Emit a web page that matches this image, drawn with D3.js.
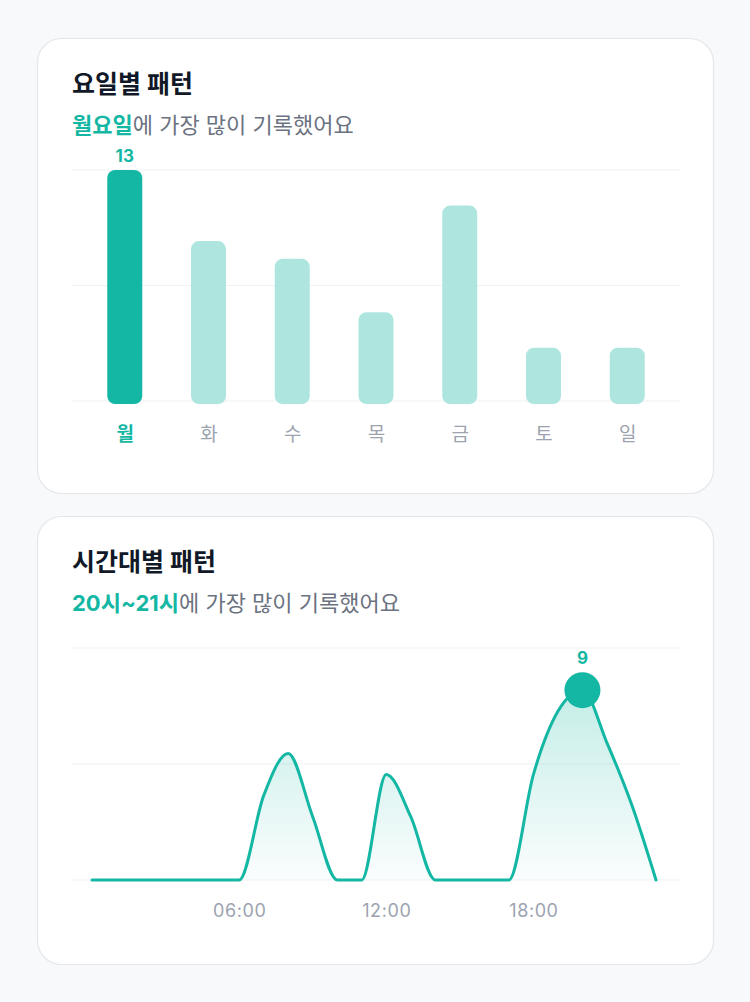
<!DOCTYPE html>
<html>
<head>
<meta charset="utf-8">
<script src="https://cdn.jsdelivr.net/npm/d3@7"></script>
<style>
  html, body { margin: 0; padding: 0; background: #f8f9fa; }
  svg { display: block; }
  text { font-family: Inter, "Noto Sans CJK KR", "Noto Sans", sans-serif; }
</style>
</head>
<body>
<svg id="chart" width="750" height="1002"></svg>
<script>
// ---- Data ----
const weekdays = ["월", "화", "수", "목", "금", "토", "일"];
const weekdayCounts = [13, 9, 8, 5, 11, 3, 3];

const hours = [0,1,2,3,4,5,6,7,8,9,10,11,12,13,14,15,16,17,18,19,20,21,22,23];
const hourCounts = [0,0,0,0,0,0,0,4,6,3,0,0,5,3,0,0,0,0,5,8,9,6.5,3.6,0];
const hourTickValues = [6, 12, 18];
const hourTickLabels = ["06:00", "12:00", "18:00"];

const card1Title = "요일별 패턴";
const card1Highlight = "월요일";
const card1Rest = "에 가장 많이 기록했어요";
const card2Title = "시간대별 패턴";
const card2Highlight = "20시~21시";
const card2Rest = "에 가장 많이 기록했어요";

// ---- Styles ----
const TEAL = "#14b7a3";
const TEAL_LIGHT = "#aee6df";
const GRID = "#f0f2f4";
const TITLE = "#111827";
const SUB = "#6b7280";
const AXIS = "#9ca3af";

const svg = d3.select("#chart");

// cards
const cards = [{x: 37, y: 38, w: 676, h: 455}, {x: 37, y: 516, w: 676, h: 448}];
svg.selectAll("rect.card").data(cards).join("rect")
  .attr("class", "card")
  .attr("x", d => d.x + 0.5).attr("y", d => d.y + 0.5)
  .attr("width", d => d.w).attr("height", d => d.h)
  .attr("rx", 24).attr("fill", "#fff")
  .attr("stroke", "#e4e6ea").attr("stroke-width", 1.2);

function header(top, title, hl, rest) {
  svg.append("text").attr("x", 72).attr("y", top + 55)
    .attr("font-size", 25).attr("font-weight", 700).attr("fill", TITLE)
    .text(title);
  const t = svg.append("text").attr("x", 72).attr("y", top + 95)
    .attr("font-size", 22).attr("fill", SUB);
  t.append("tspan").attr("font-weight", 700).attr("fill", TEAL).text(hl);
  t.append("tspan").attr("font-weight", 400).text(rest);
}
header(cards[0].y, card1Title, card1Highlight, card1Rest);
header(cards[1].y, card2Title, card2Highlight, card2Rest);

// ---- Bar chart ----
const b = { left: 72, right: 680, top: cards[0].y + 132, bottom: cards[0].y + 363 };
const bMax = d3.max(weekdayCounts);
const by = d3.scaleLinear().domain([0, bMax]).range([b.bottom, b.top]);
const bx = d3.scalePoint().domain(weekdays).range([b.left, b.right]).padding(0.63);
const barW = 35;

const gB = svg.append("g");
gB.selectAll("line.grid").data([0, bMax / 2, bMax]).join("line")
  .attr("x1", b.left).attr("x2", b.right)
  .attr("y1", d => by(d)).attr("y2", d => by(d))
  .attr("stroke", GRID).attr("stroke-width", 1.2);

const maxIdx = weekdayCounts.indexOf(bMax);
gB.selectAll("rect.bar").data(weekdayCounts).join("rect")
  .attr("x", (d, i) => bx(weekdays[i]) - barW / 2)
  .attr("y", d => by(d))
  .attr("width", barW)
  .attr("height", d => by(0) - by(d) + 3)
  .attr("rx", 8)
  .attr("fill", (d, i) => i === maxIdx ? TEAL : TEAL_LIGHT);

gB.append("text")
  .attr("x", bx(weekdays[maxIdx])).attr("y", by(bMax) - 8)
  .attr("text-anchor", "middle").attr("font-size", 17).attr("font-weight", 700)
  .attr("fill", TEAL).text(bMax);

const xAxisB = d3.axisBottom(bx).tickSize(0).tickPadding(0);
const axB = gB.append("g").attr("transform", `translate(0,${b.bottom + 40})`).call(xAxisB);
axB.select(".domain").remove();
axB.selectAll("text")
  .attr("font-size", 19)
  .attr("dy", 0)
  .attr("fill", (d, i) => i === maxIdx ? TEAL : AXIS)
  .attr("font-weight", (d, i) => i === maxIdx ? 700 : 400);

// ---- Line chart ----
const l = { left: 72, right: 680, top: cards[1].y + 132, bottom: cards[1].y + 364 };
const hMax = d3.max(hourCounts);
const yDomMax = hMax + 2;
const ly = d3.scaleLinear().domain([0, yDomMax]).range([l.bottom, l.top]);
const lx = d3.scaleLinear().domain([0, 23]).range([92, 656]);

const gL = svg.append("g");
gL.selectAll("line.grid").data([0, yDomMax / 2, yDomMax]).join("line")
  .attr("x1", l.left).attr("x2", l.right)
  .attr("y1", d => ly(d)).attr("y2", d => ly(d))
  .attr("stroke", GRID).attr("stroke-width", 1.2);

const defs = svg.append("defs");
const grad = defs.append("linearGradient").attr("id", "areaGrad")
  .attr("gradientUnits", "userSpaceOnUse")
  .attr("x1", 0).attr("x2", 0).attr("y1", ly(hMax)).attr("y2", ly(0));
grad.append("stop").attr("offset", "0%").attr("stop-color", TEAL).attr("stop-opacity", 0.25);
grad.append("stop").attr("offset", "100%").attr("stop-color", TEAL).attr("stop-opacity", 0.02);

const pts = hours.map((h, i) => [h, hourCounts[i]]);
const area = d3.area().x(d => lx(d[0])).y0(ly(0)).y1(d => ly(d[1])).curve(d3.curveMonotoneX);
const line = d3.line().x(d => lx(d[0])).y(d => ly(d[1])).curve(d3.curveMonotoneX);

gL.append("path").datum(pts).attr("d", area).attr("fill", "url(#areaGrad)");
gL.append("path").datum(pts).attr("d", line)
  .attr("fill", "none").attr("stroke", TEAL).attr("stroke-width", 3)
  .attr("stroke-linejoin", "round").attr("stroke-linecap", "round");

const peakIdx = hourCounts.indexOf(hMax);
gL.append("circle").attr("cx", lx(hours[peakIdx])).attr("cy", ly(hMax))
  .attr("r", 18).attr("fill", TEAL);
gL.append("text").attr("x", lx(hours[peakIdx])).attr("y", ly(hMax) - 26)
  .attr("text-anchor", "middle").attr("font-size", 17).attr("font-weight", 700)
  .attr("fill", TEAL).text(hMax);

const xAxisL = d3.axisBottom(lx).tickValues(hourTickValues)
  .tickFormat((d, i) => hourTickLabels[i]).tickSize(0).tickPadding(0);
const axL = gL.append("g").attr("transform", `translate(0,${l.bottom + 37})`).call(xAxisL);
axL.select(".domain").remove();
axL.selectAll("text").attr("font-size", 18).attr("dy", 0).attr("fill", AXIS)
  .attr("letter-spacing", 0.6);
</script>
</body>
</html>
